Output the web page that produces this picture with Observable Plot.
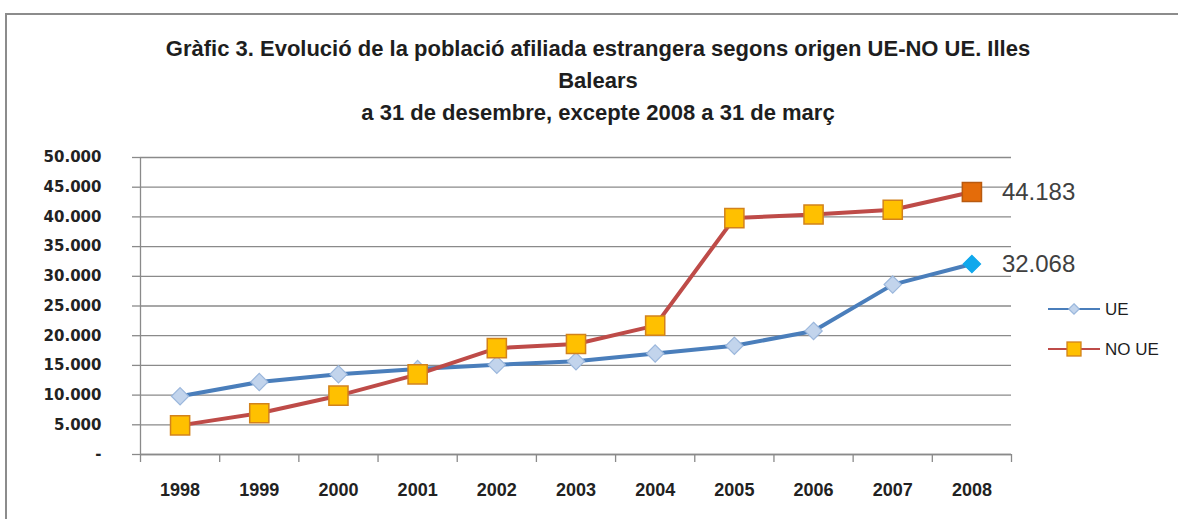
<!DOCTYPE html>
<html><head><meta charset="utf-8">
<script src="https://cdn.jsdelivr.net/npm/d3@7"></script>
<script src="https://cdn.jsdelivr.net/npm/@observablehq/plot@0.6"></script>
<style>
body{margin:0;background:#fff;}
#wrap{position:relative;width:1178px;height:519px;overflow:hidden;background:#fff;}
#border{position:absolute;left:5px;top:13px;width:1300px;height:700px;border-top:2px solid #8c8c8c;border-left:2px solid #8c8c8c;}
#title{position:absolute;left:0;top:33px;width:1196px;text-align:center;font-weight:bold;font-size:22px;font-family:"Liberation Sans",sans-serif;line-height:32px;color:#1e1e1e;}
#chart{position:absolute;left:0;top:0;}
#legend{position:absolute;left:0;top:0;}
</style></head>
<body>
<div id="wrap">
  <div id="border"></div>
  <div id="chart"></div>
  <div id="title">Gràfic 3. Evolució de la població afiliada estrangera segons origen UE-NO UE. Illes<br>Balears<br>a 31 de desembre, excepte 2008 a 31 de març</div>
  <svg id="legend" width="1178" height="519"></svg>
</div>
<script>
const years = [1998, 1999, 2000, 2001, 2002, 2003, 2004, 2005, 2006, 2007, 2008];
const ue    = [9800, 12200, 13500, 14400, 15100, 15700, 17000, 18300, 20800, 28600, 32068];
const noUe  = [4900, 6950, 9900, 13500, 17900, 18600, 21700, 39800, 40400, 41200, 44183];
const yTicks = [0, 5000, 10000, 15000, 20000, 25000, 30000, 35000, 40000, 45000, 50000];
const seriesNames = ["UE", "NO UE"];

const ueData = years.map((year, i) => ({year, value: ue[i], last: i === years.length - 1}));
const noData = years.map((year, i) => ({year, value: noUe[i], last: i === years.length - 1}));
const boundaries = years.map(y => y - 0.5).concat([years[years.length - 1] + 0.5]);
const fmt = d => d === 0 ? "-" : d3.format(",")(d).replace(/,/g, ".");
const labelFmt = d => d3.format(",")(d).replace(/,/g, ".");

const chart = Plot.plot({
  width: 1178,
  height: 519,
  marginLeft: 140,
  marginRight: 167,
  marginTop: 157,
  marginBottom: 65,
  style: {background: "transparent", overflow: "visible"},
  x: {type: "linear", domain: [boundaries[0], boundaries[boundaries.length - 1]]},
  y: {domain: [0, 50000]},
  marks: [
    Plot.gridY(yTicks, {stroke: "#8a8a8a", strokeOpacity: 1, strokeWidth: 1.3}),
    Plot.axisY({ticks: yTicks, tickFormat: fmt, tickSize: 8, tickPadding: 31, stroke: "#8a8a8a", strokeWidth: 1.3,
      fontSize: 15, fontWeight: "bold", fontFamily: "DejaVu Sans", fill: "#222", label: null}),
    Plot.ruleX([boundaries[0]], {stroke: "#8a8a8a", strokeWidth: 1.3}),
    Plot.ruleY([0], {stroke: "#8a8a8a", strokeWidth: 1.5}),
    Plot.axisX({ticks: boundaries, tickFormat: () => "", tickSize: 8, stroke: "#8a8a8a", strokeWidth: 1.3, label: null}),
    Plot.axisX({ticks: years, tickFormat: d => String(d), tickSize: 0, tickPadding: 29,
      fontSize: 18, fontWeight: "bold", fontFamily: "Liberation Sans, sans-serif", fill: "#222", label: null}),
    Plot.line(ueData, {x: "year", y: "value", stroke: "#4a7ebb", strokeWidth: 4}),
    Plot.dot(ueData, {x: "year", y: "value", symbol: "diamond2", r: 7.8,
      fill: d => d.last ? "#10a8ec" : "#c2d4ec", stroke: d => d.last ? "#10a8ec" : "#9bb7dc", strokeWidth: 1.2}),
    Plot.line(noData, {x: "year", y: "value", stroke: "#be4b48", strokeWidth: 4}),
    Plot.dot(noData, {x: "year", y: "value", symbol: "square", r: 10.8,
      fill: d => d.last ? "#e46c0a" : "#ffc000", stroke: d => d.last ? "#b85a10" : "#d2821c", strokeWidth: 1.5}),
    Plot.text(ueData.filter(d => d.last), {x: "year", y: "value", text: d => labelFmt(d.value), dx: 30, textAnchor: "start",
      fontSize: 24, fontFamily: "Liberation Sans, sans-serif", fill: "#404040"}),
    Plot.text(noData.filter(d => d.last), {x: "year", y: "value", text: d => labelFmt(d.value), dx: 30, textAnchor: "start",
      fontSize: 24, fontFamily: "Liberation Sans, sans-serif", fill: "#404040"})
  ]
});
document.getElementById("chart").appendChild(chart);

// Legend
const lg = d3.select("#legend");
const legendItems = [
  {name: seriesNames[0], stroke: "#4a7ebb", symbol: "diamond", y: 309},
  {name: seriesNames[1], stroke: "#be4b48", symbol: "square", y: 349}
];
legendItems.forEach(it => {
  lg.append("line").attr("x1", 1048).attr("x2", 1100).attr("y1", it.y).attr("y2", it.y)
    .attr("stroke", it.stroke).attr("stroke-width", 2.2);
  if (it.symbol === "diamond") {
    lg.append("path").attr("d", d3.symbol(d3.symbolDiamond2, 70)()).attr("transform", `translate(1074,${it.y})`)
      .attr("fill", "#c2d4ec").attr("stroke", "#9bb7dc").attr("stroke-width", 1.2);
  } else {
    lg.append("rect").attr("x", 1074 - 7).attr("y", it.y - 7).attr("width", 14).attr("height", 14)
      .attr("fill", "#ffc000").attr("stroke", "#d2821c").attr("stroke-width", 1.3);
  }
  lg.append("text").attr("x", 1105).attr("y", it.y).attr("dy", "0.35em").text(it.name)
    .attr("font-family", "Liberation Sans, sans-serif").attr("font-size", 17).attr("fill", "#1e1e1e");
});
</script>
</body></html>
